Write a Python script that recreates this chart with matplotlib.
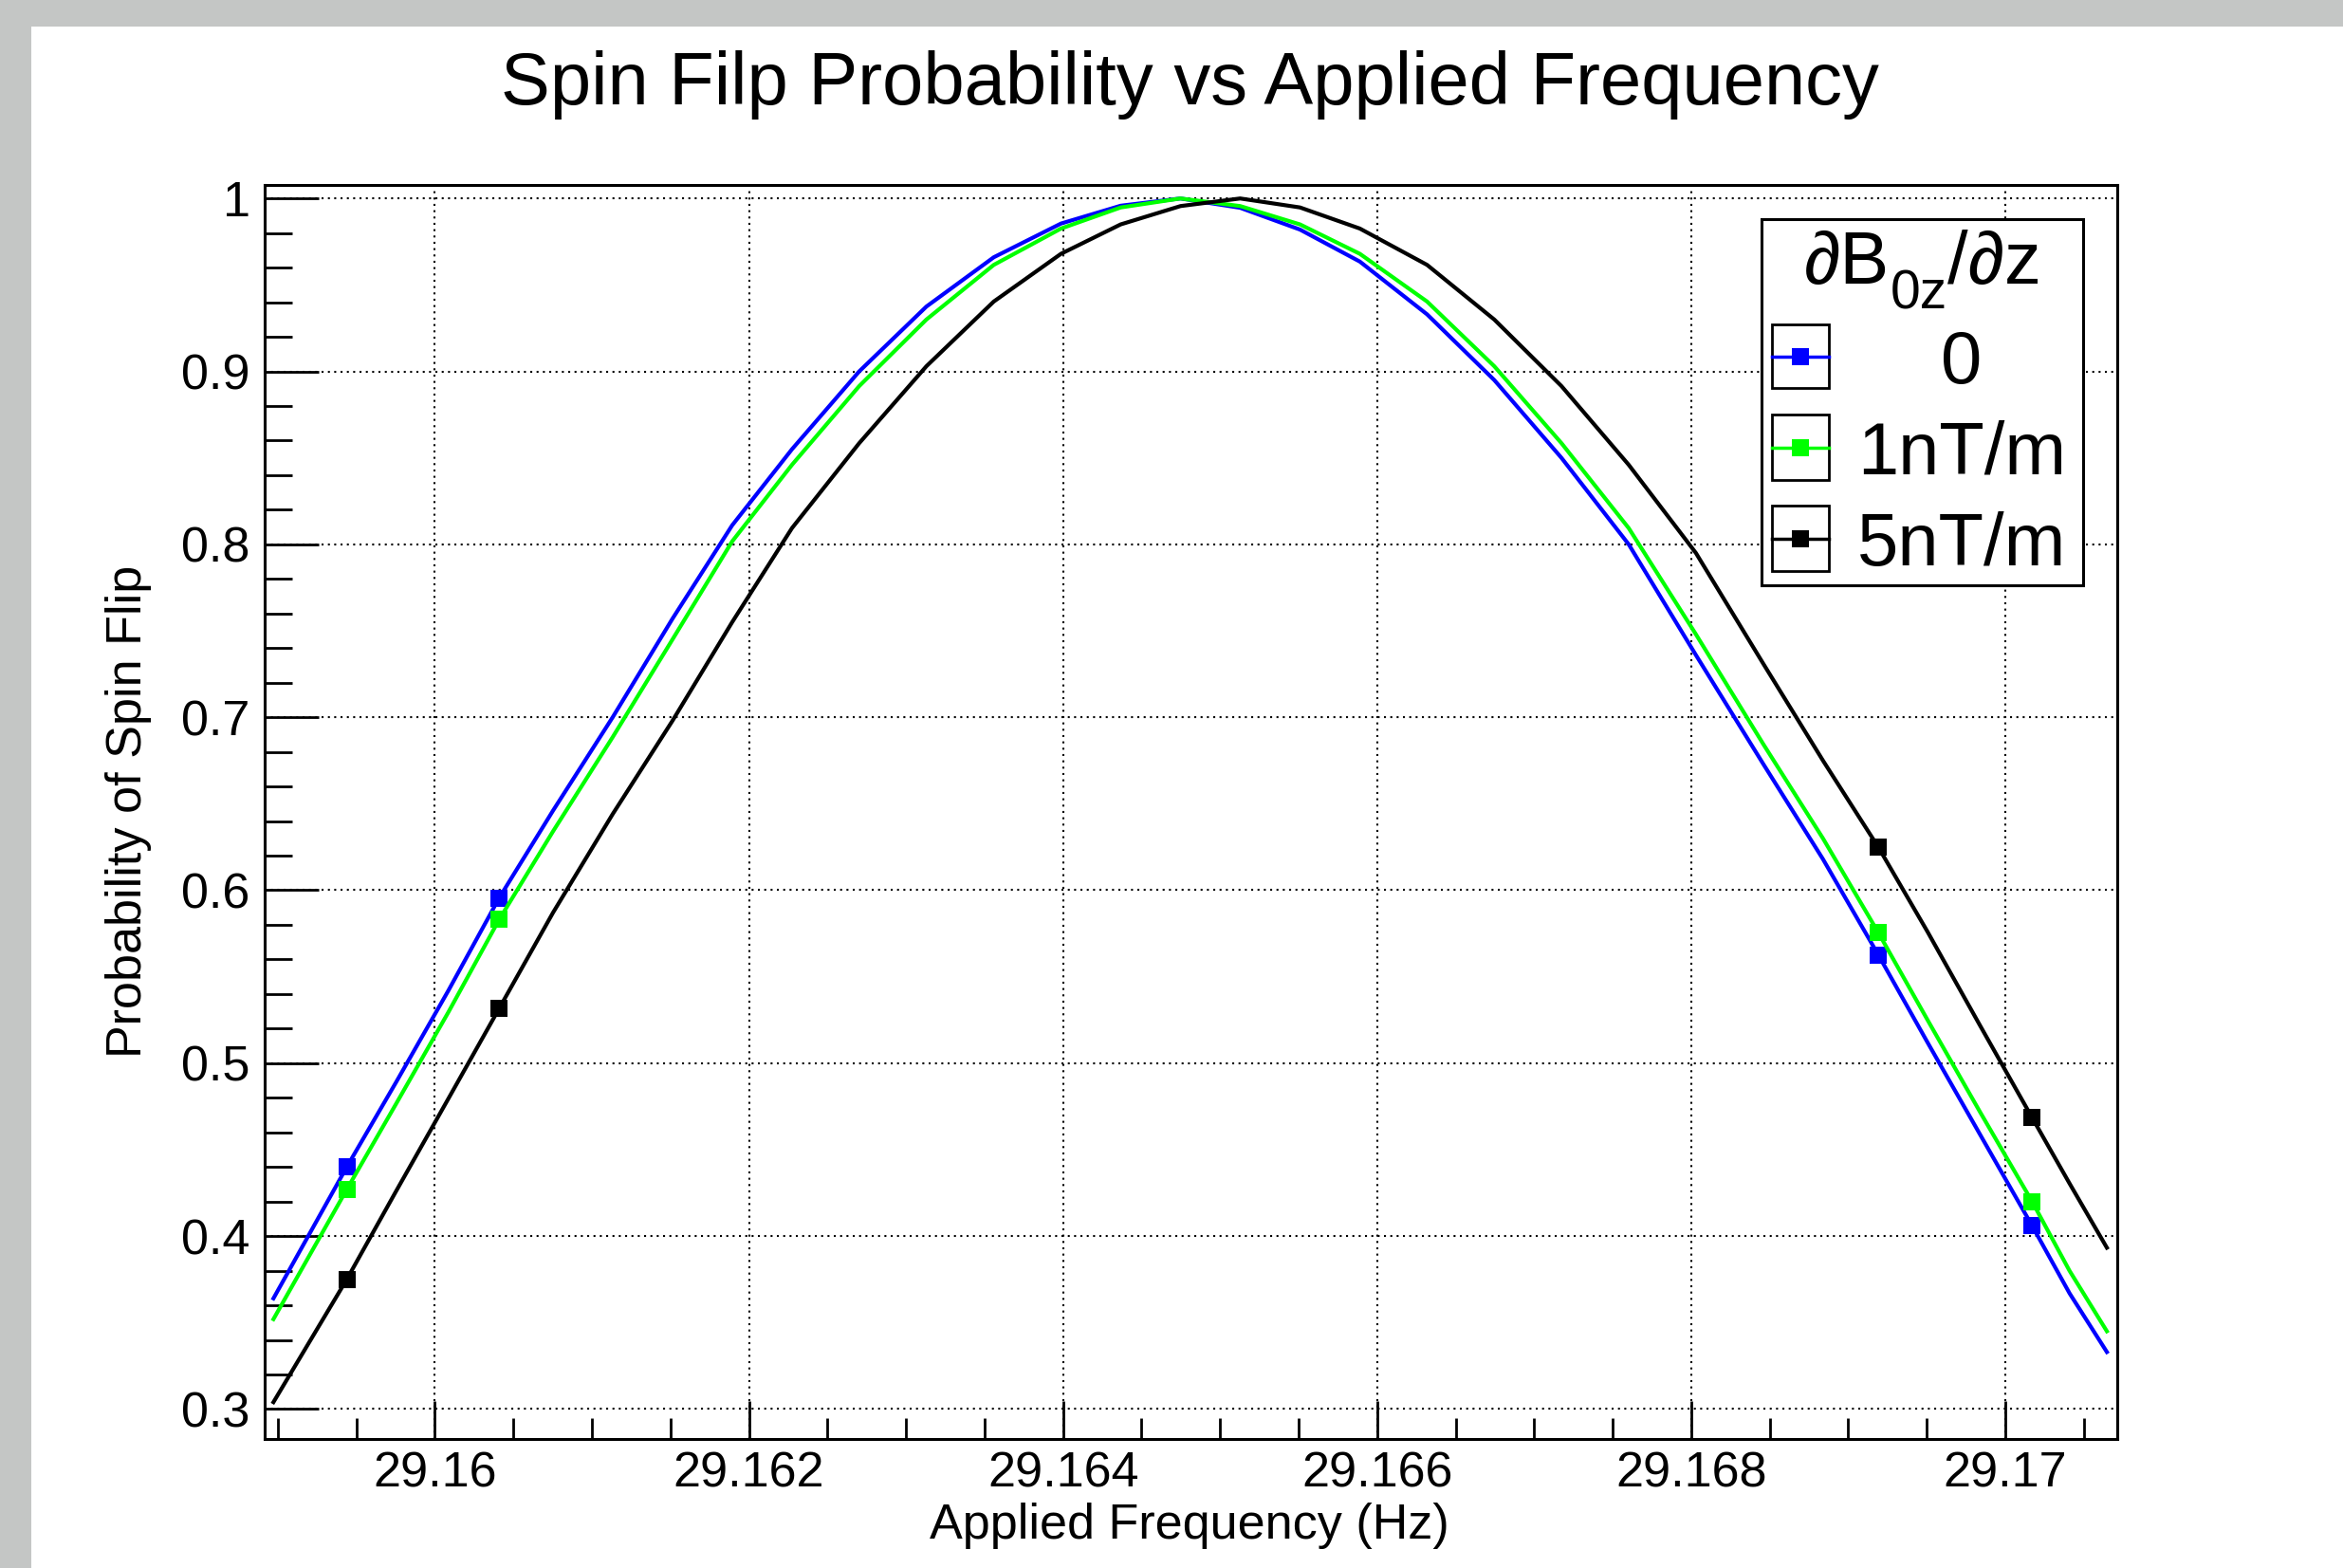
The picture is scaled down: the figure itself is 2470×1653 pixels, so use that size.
"""Spin flip probability vs applied frequency (ROOT-style canvas)."""

import matplotlib

matplotlib.use("Agg")

import matplotlib.pyplot as plt
from matplotlib.lines import Line2D
from matplotlib.patches import Rectangle
from matplotlib.ticker import FuncFormatter, MultipleLocator

plt.rcParams["font.family"] = ["Liberation Sans", "DejaVu Sans"]

# applied frequency grid [Hz], shared by the three curves
freq = [
    29.158972, 29.159439, 29.159753, 29.160086, 29.160409, 29.160752,
    29.161132, 29.161513, 29.161893, 29.162274, 29.162702, 29.163130,
    29.163559, 29.163987, 29.164367, 29.164748, 29.165128, 29.165509,
    29.165890, 29.166318, 29.166746, 29.167174, 29.167602, 29.168030,
    29.168459, 29.168839, 29.169191, 29.169505, 29.169838, 29.170171,
    29.170409, 29.170647,
]
prob_0 = [
    0.364, 0.440, 0.489, 0.542, 0.5955, 0.646, 0.700, 0.757, 0.811, 0.855,
    0.900, 0.9375, 0.966, 0.9855, 0.9958, 1.000, 0.9946, 0.982, 0.9635,
    0.933, 0.895, 0.850, 0.800, 0.736, 0.673, 0.618, 0.5627, 0.512, 0.459,
    0.406, 0.367, 0.333,
]
prob_1nT = [
    0.352, 0.427, 0.4765, 0.5295, 0.583, 0.634, 0.6885, 0.745, 0.8017, 0.846,
    0.8915, 0.930, 0.9616, 0.9826, 0.9948, 1.000, 0.9956, 0.985, 0.968,
    0.9404, 0.903, 0.8585, 0.8094, 0.748, 0.6845, 0.630, 0.5756, 0.525,
    0.472, 0.420, 0.380, 0.345,
]
prob_5nT = [
    0.304, 0.375, 0.426, 0.4795, 0.5316, 0.587, 0.644, 0.698, 0.755, 0.8094,
    0.8585, 0.903, 0.9404, 0.968, 0.985, 0.9956, 1.000, 0.9948, 0.9826,
    0.9616, 0.930, 0.8915, 0.846, 0.795, 0.731, 0.675, 0.625, 0.576, 0.522,
    0.4685, 0.4305, 0.3933,
]
marker_idx = [1, 4, 26, 29]

series_labels = ["0", "1nT/m", "5nT/m"]
series_colors = ["#0000ff", "#00ff00", "#000000"]

W, H = 2470, 1653


def fx(x):
    return x / W


def fy(y):
    return 1 - y / H


fig = plt.figure(figsize=(W / 100, H / 100), dpi=100)
fig.patch.set_facecolor("#c4c6c5")
fig.patches.append(Rectangle((fx(33), 0), 1 - fx(33), fy(28), transform=fig.transFigure,
                             facecolor="white", edgecolor="none", zorder=-10))

ax = fig.add_axes([fx(279), fy(1517), fx(2232) - fx(279), fy(195) - fy(1517)])

for probs, color in zip([prob_0, prob_1nT, prob_5nT], series_colors):
    ax.plot(freq, probs, color=color, linewidth=3.0, marker="s", markersize=12.5,
            markeredgewidth=0, markevery=marker_idx, zorder=3)

ax.set_xlim(29.158916, 29.170713)
ax.set_ylim(0.2827, 1.0078)
ax.xaxis.set_major_locator(MultipleLocator(0.002))
ax.xaxis.set_minor_locator(MultipleLocator(0.0005))
ax.yaxis.set_major_locator(MultipleLocator(0.1))
ax.yaxis.set_minor_locator(MultipleLocator(0.02))
ax.xaxis.set_major_formatter(FuncFormatter(lambda v, _: f"{v:g}"))
ax.yaxis.set_major_formatter(FuncFormatter(lambda v, _: f"{v:g}"))

ax.tick_params(which="both", direction="in", top=False, right=False, width=2.0,
               labelsize=37.5, color="black")
ax.tick_params(axis="x", which="major", length=29, pad=9)
ax.tick_params(axis="x", which="minor", length=16)
ax.tick_params(axis="y", which="major", length=41, pad=11)
ax.tick_params(axis="y", which="minor", length=21)
for spine in ax.spines.values():
    spine.set_linewidth(2.2)
ax.grid(True, which="major", color="black", linestyle=(0, (1, 2.2)), linewidth=1.5, zorder=0)
ax.set_axisbelow(True)

fig.text(fx(1254), fy(110), "Spin Filp Probability vs Applied Frequency",
         ha="center", va="baseline", fontsize=56)
fig.text(fx(1254), fy(1622), "Applied Frequency (Hz)", ha="center", va="baseline", fontsize=37.5)
fig.text(fx(135), fy(855), "Probability of Spin Flip", ha="center", va="center",
         rotation=90, fontsize=37.5)

# legend drawn by hand, ROOT TLegend look
fig.patches.append(Rectangle((fx(1857), fy(617)), fx(2196) - fx(1857), fy(231) - fy(617),
                             transform=fig.transFigure, facecolor="white", edgecolor="black",
                             linewidth=2.2, zorder=5))

# header "dB_0z/dz" built from pieces so the subscript sits like ROOT's
renderer = fig.canvas.get_renderer()
header_parts = [("∂B", 56, 299), ("0z", 41, 326), ("/∂z", 56, 299)]
pieces = [fig.text(0, fy(base), txt, fontsize=size, ha="left", va="baseline", zorder=6)
          for txt, size, base in header_parts]
widths = [p.get_window_extent(renderer).width for p in pieces]
cursor = 2027 - sum(widths) / 2
for piece, width in zip(pieces, widths):
    piece.set_x(fx(cursor))
    cursor += width

row_tops = [342, 437, 533]
row_bottoms = [409, 506, 602]
for top, bottom, label, color in zip(row_tops, row_bottoms, series_labels, series_colors):
    mid = (top + bottom) / 2
    fig.patches.append(Rectangle((fx(1868), fy(bottom)), fx(1928) - fx(1868), fy(top) - fy(bottom),
                                 transform=fig.transFigure, facecolor="white", edgecolor="black",
                                 linewidth=2.0, zorder=6))
    fig.lines.append(Line2D([fx(1868), fx(1928)], [fy(mid), fy(mid)], transform=fig.transFigure,
                            color=color, linewidth=2.5, zorder=7))
    fig.lines.append(Line2D([fx(1898)], [fy(mid)], transform=fig.transFigure, color=color,
                            marker="s", markersize=13, markeredgewidth=0, linestyle="none", zorder=8))
    fig.text(fx(2068), fy(mid), label, ha="center", va="center_baseline", fontsize=56, zorder=7)

fig.savefig("out.png", dpi=100, facecolor=fig.get_facecolor())
